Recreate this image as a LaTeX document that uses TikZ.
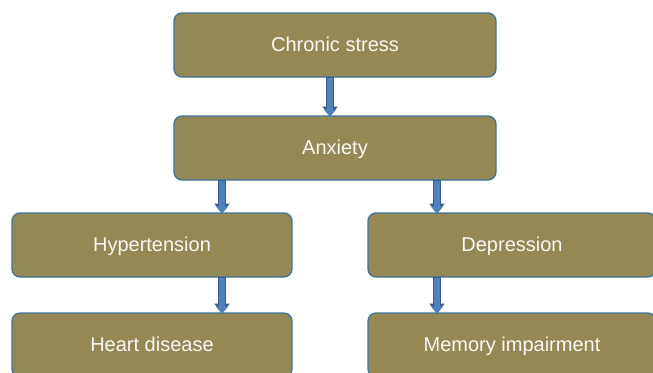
\documentclass[tikz,border=0pt]{standalone}
\usepackage{fontspec}
\setmainfont{Liberation Sans}
\usetikzlibrary{arrows.meta}
\definecolor{boxfill}{RGB}{148,137,84}
\definecolor{boxline}{RGB}{65,113,156}
\definecolor{arrfill}{RGB}{79,129,189}
\definecolor{arrline}{RGB}{56,93,138}
\definecolor{boxtext}{RGB}{248,248,244}
\tikzset{
  box/.style={rectangle, rounded corners=8pt, draw=boxline, line width=1.3pt,
    fill=boxfill, text=boxtext, minimum height=64pt, inner sep=0pt, outer sep=0pt,
    text height=15.5pt, text depth=2pt,
    font=\fontsize{20}{24}\selectfont},
  fatouter/.style={draw=arrline, line width=8.2pt, -{Triangle[width=15pt,length=9.5pt]}},
  fatinner/.style={draw=arrfill, line width=5.8pt, -{Triangle[width=12pt,length=7.6pt]}, shorten <=1.2pt},
}
\begin{document}
\begin{tikzpicture}[x=1pt,y=-1pt]
\useasboundingbox (0,0) rectangle (653,372);
\clip (0,0) rectangle (653,372);
\node[box, minimum width=322pt] (cs) at (335,45) {Chronic stress};
\node[box, minimum width=322pt] (anx) at (335,148) {Anxiety};
\node[box, minimum width=280pt] (hyp) at (152,245) {Hypertension};
\node[box, minimum width=288pt] (dep) at (512,245) {Depression};
\node[box, minimum width=280pt] (hd) at (152,345) {Heart disease};
\node[box, minimum width=288pt] (mem) at (512,345) {Memory impairment};
\coordinate (xa) at (330,0);
\coordinate (xl) at (222,0);
\coordinate (xr) at (437,0);
\foreach \s/\t/\x in {cs/anx/xa, anx/hyp/xl, anx/dep/xr, hyp/hd/xl, dep/mem/xr}{
  \draw[fatouter] (\s.south -| \x) -- (\t.north -| \x);
  \draw[fatinner] (\s.south -| \x) -- ([yshift=-0.9pt]\t.north -| \x);
}
\end{tikzpicture}
\end{document}
